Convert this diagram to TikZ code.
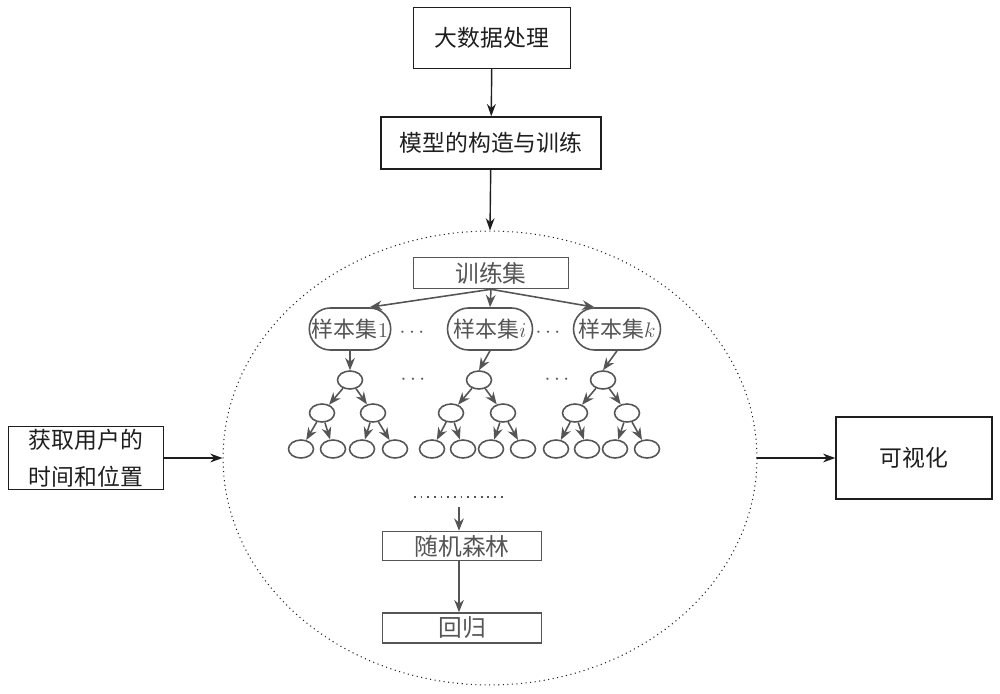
\documentclass[tikz,border=0pt]{standalone}
\usepackage{fontspec}
\setmainfont{Noto Sans CJK SC}
\usetikzlibrary{shapes.geometric,shapes.misc,arrows.meta}
\definecolor{inner}{RGB}{85,85,85}
\definecolor{outer}{RGB}{30,30,30}
\tikzset{
  obox/.style={draw=outer,line width=0.8pt,inner sep=0pt,align=center,font=\fontsize{13}{21}\selectfont,text=outer},
  ibox/.style={draw=inner,line width=0.9pt,inner sep=0pt,align=center,font=\fontsize{13.5}{15}\selectfont,text=inner},
  sset/.style={draw=inner,line width=0.9pt,rounded rectangle,inner sep=0pt,minimum height=0.84cm,font=\fontsize{12.5}{14}\selectfont,text=inner},
  tnode/.style={draw=inner,line width=0.9pt,ellipse,inner sep=0pt,minimum width=0.5cm,minimum height=0.36cm},
  oarr/.style={draw=outer,line width=0.8pt,-{Stealth[length=7pt,width=5pt]}},
  iarr/.style={draw=inner,line width=0.9pt,-{Stealth[length=7pt,width=5.5pt]}},
  dots/.style={text=inner,font=\fontsize{12}{12}\selectfont,inner sep=0pt}
}
\begin{document}
\begin{tikzpicture}[x=0.02cm,y=-0.02cm]
\useasboundingbox (0,0) rectangle (1000,693);
% outer boxes
\node[obox,minimum width=3.14cm,minimum height=1.22cm] (big) at (492,38) {大数据处理};
\node[obox,minimum width=4.4cm,minimum height=1.04cm] (model) at (491,143) {模型的构造与训练};
\node[draw=outer,line width=0.6pt,dotted,ellipse,minimum width=10.68cm,minimum height=9.08cm,inner sep=0pt] (E) at (490,458) {};
\node[obox,minimum width=3.1cm,minimum height=1.26cm] (user) at (86,458) {获取用户的\\时间和位置};
\node[obox,minimum width=3.12cm,minimum height=1.64cm] (vis) at (914,458) {可视化};
\draw[oarr] (big) -- (model);
\draw[oarr] (model) -- (E.north);
\draw[oarr] (user.east) -- (E.west);
\draw[oarr] (E.east) -- (vis.west);
% inner
\node[ibox,minimum width=3.1cm,minimum height=0.62cm] (train) at (491,273) {训练集};
\node[sset,minimum width=1.52cm] (s1) at (350,329) {样本集$1$};
\node[sset,minimum width=1.7cm] (si) at (490,329) {样本集$i$};
\node[sset,minimum width=1.74cm] (sk) at (617,329) {样本集$k$};
\node[dots] (d1) at (412,333) {$\cdots$};
\node[dots] (d2) at (548,333) {$\cdots$};
\draw[iarr] (train.south) -- (s1.north east);
\draw[iarr] (train.south) -- (si.north);
\draw[iarr] (train.south) -- (sk.north west);
% trees
\foreach \n/\r/\la/\lb/\fa/\fb/\fc/\fd in {a/350/322/373/301/333/362/395, b/479/451/503/432/463/491/523, c/603/575/627/556/587/615/647}{
  \node[tnode] (\n0) at (\r,380) {};
  \node[tnode] (\n1) at (\la,413) {};
  \node[tnode] (\n2) at (\lb,413) {};
  \node[tnode] (\n3) at (\fa,449) {};
  \node[tnode] (\n4) at (\fb,449) {};
  \node[tnode] (\n5) at (\fc,449) {};
  \node[tnode] (\n6) at (\fd,449) {};
  \draw[iarr] (\n0) -- (\n1);
  \draw[iarr] (\n0) -- (\n2);
  \draw[iarr] (\n1) -- (\n3);
  \draw[iarr] (\n1) -- (\n4);
  \draw[iarr] (\n2) -- (\n5);
  \draw[iarr] (\n2) -- (\n6);
}
\draw[iarr] (s1.south) -- (a0.north);
\draw[iarr] (si.south) -- (b0.north);
\draw[iarr] (sk.south) -- (c0.north);
\node[dots] (d3) at (413,380) {$\cdots$};
\node[dots] (d4) at (557,380) {$\cdots$};
% dotted row
\coordinate (r1) at (414,497);
\coordinate (r2) at (507,497);
\draw[inner,line width=1pt,dash pattern=on 1pt off 2.8pt] (r1) -- (r2);
\coordinate (ra) at (459,507);
\node[ibox,minimum width=3.18cm,minimum height=0.58cm] (rf) at (462,546) {随机森林};
\node[ibox,minimum width=3.18cm,minimum height=0.6cm] (reg) at (462,628) {回归};
\draw[iarr] (ra) -- (ra |- rf.north);
\draw[iarr] (ra |- rf.south) -- (ra |- reg.north);
\end{tikzpicture}
\end{document}
